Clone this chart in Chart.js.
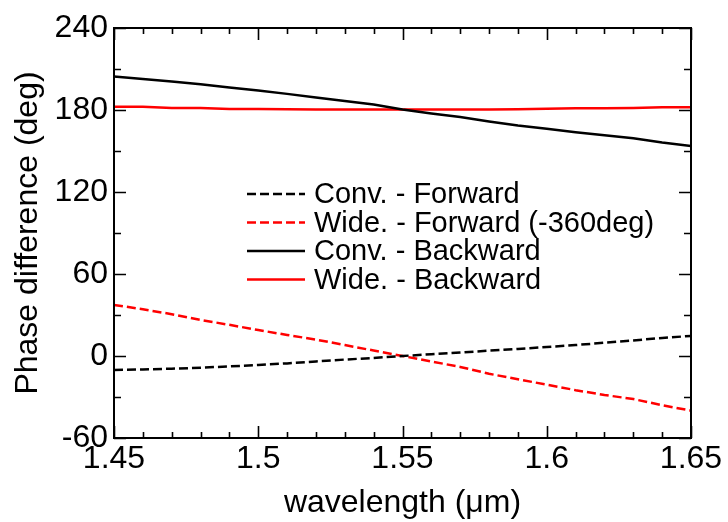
<!DOCTYPE html>
<html><head><meta charset="utf-8">
<script src="https://cdn.jsdelivr.net/npm/chart.js@4.4.0/dist/chart.umd.min.js"></script>
<style>html,body{margin:0;padding:0;background:#fff}#wrap{width:728px;height:522px}</style>
</head><body><div id="wrap"><canvas id="c" width="728" height="522"></canvas></div>
<script>
const wavelengths = [1.45,1.46,1.47,1.48,1.49,1.50,1.51,1.52,1.53,1.54,1.55,1.56,1.57,1.58,1.59,1.60,1.61,1.62,1.63,1.64,1.65];
const convForward  = [-10.3,-9.8,-9.3,-8.6,-7.6,-6.6,-5.4,-4.0,-2.6,-1.4,0.0,1.3,2.6,3.9,5.2,6.6,8.0,9.7,11.4,13.2,14.7];
const wideForward  = [37.4,34.2,30.6,26.4,22.8,19.0,15.4,12.0,8.0,4.0,0.0,-4.0,-8.0,-13.0,-17.0,-21.0,-25.0,-28.5,-31.5,-36.0,-40.0];
const convBackward = [204.5,202.7,200.8,198.8,196.5,194.2,191.8,189.2,186.6,184.0,180.3,177.4,174.8,171.6,168.6,166.2,163.8,161.5,159.4,156.3,153.7];
const wideBackward = [182.3,182.3,181.5,181.5,180.8,180.8,180.5,180.4,180.3,180.3,180.3,180.3,180.3,180.4,180.5,181.0,181.3,181.3,181.5,182.0,182.0];
const seriesLabels = ['Conv. - Forward','Wide. - Forward (-360deg)','Conv. - Backward','Wide. - Backward'];
const xTicks = [1.45,1.5,1.55,1.6,1.65];
const yTicks = [-60,0,60,120,180,240];

const FONT = "'Liberation Sans', Arial, Helvetica, sans-serif";
const toXY = arr => arr.map((v,i)=>({x:wavelengths[i], y:v}));

const frameTicks = {
  id:'frameTicks',
  afterDatasetsDraw(chart){
    const {ctx, chartArea:a, scales:{x, y}} = chart;
    ctx.save();
    ctx.strokeStyle = '#000';
    ctx.lineWidth = 1.6;
    ctx.beginPath();
    for (let i=0;i<=20;i++){
      const v = 1.45 + i*0.01;
      const px = Math.round(x.getPixelForValue(v))+0.5;
      const len = (i%5===0)?12:6;
      ctx.moveTo(px, a.bottom); ctx.lineTo(px, a.bottom-len);
      ctx.moveTo(px, a.top); ctx.lineTo(px, a.top+len);
    }
    for (let v=-60; v<=240; v+=30){
      const py = Math.round(y.getPixelForValue(v))+0.5;
      const len = (v%60===0)?12:7;
      ctx.moveTo(a.left, py); ctx.lineTo(a.left+len, py);
      ctx.moveTo(a.right, py); ctx.lineTo(a.right-len, py);
    }
    ctx.stroke();
    ctx.lineWidth = 2;
    ctx.strokeRect(a.left, a.top, a.right-a.left, a.bottom-a.top);
    ctx.restore();
  }
};

const innerLegend = {
  id:'innerLegend',
  afterDraw(chart){
    const ctx = chart.ctx;
    ctx.save();
    chart.data.datasets.forEach((ds,i)=>{
      const yy = 194 + i*28.5;
      ctx.strokeStyle = ds.borderColor;
      ctx.lineWidth = ds.borderWidth;
      ctx.setLineDash(ds.borderDash || []);
      ctx.beginPath(); ctx.moveTo(247, yy); ctx.lineTo(305, yy); ctx.stroke();
      ctx.setLineDash([]);
      ctx.fillStyle = '#000';
      ctx.font = "29px " + FONT;
      ctx.textBaseline = 'middle';
      ctx.textAlign = 'left';
      ctx.fillText(ds.label, 314, yy+1);
    });
    ctx.restore();
  }
};

new Chart(document.getElementById('c'), {
  type:'line',
  data:{
    datasets:[
      {label:seriesLabels[0], data:toXY(convForward), borderColor:'#000000', borderWidth:2.5, borderDash:[9,4], pointRadius:0, tension:0},
      {label:seriesLabels[1], data:toXY(wideForward), borderColor:'#ff0000', borderWidth:2.5, borderDash:[9,4], pointRadius:0, tension:0},
      {label:seriesLabels[2], data:toXY(convBackward), borderColor:'#000000', borderWidth:2.5, pointRadius:0, tension:0},
      {label:seriesLabels[3], data:toXY(wideBackward), borderColor:'#ff0000', borderWidth:2.5, pointRadius:0, tension:0}
    ]
  },
  options:{
    responsive:false, animation:false, devicePixelRatio:1,
    layout:{padding:{left:0, top:28, right:37, bottom:0}},
    plugins:{legend:{display:false}, tooltip:{enabled:false}},
    scales:{
      x:{type:'linear', min:1.45, max:1.65,
        afterBuildTicks: s => { s.ticks = xTicks.map(v=>({value:v})); },
        ticks:{font:{size:32, family:FONT}, color:'#000', padding:2, maxRotation:0, autoSkip:false, callback:v=>String(v)},
        grid:{display:false, drawTicks:false}, border:{display:false},
        title:{display:true, text:'wavelength (\u03bcm)', color:'#000', font:{size:32, family:FONT}, padding:{top:4, bottom:0}},
        afterFit: s => { s.height = 84; }
      },
      y:{type:'linear', min:-60, max:240,
        afterBuildTicks: s => { s.ticks = yTicks.map(v=>({value:v})); },
        ticks:{font:{size:32, family:FONT}, color:'#000', padding:6, autoSkip:false},
        grid:{display:false, drawTicks:false}, border:{display:false},
        title:{display:true, text:'Phase difference (deg)', color:'#000', font:{size:32, family:FONT}, padding:{top:9, bottom:0}},
        afterFit: s => { s.width = 114; }
      }
    }
  },
  plugins:[frameTicks, innerLegend]
});
</script></body></html>
